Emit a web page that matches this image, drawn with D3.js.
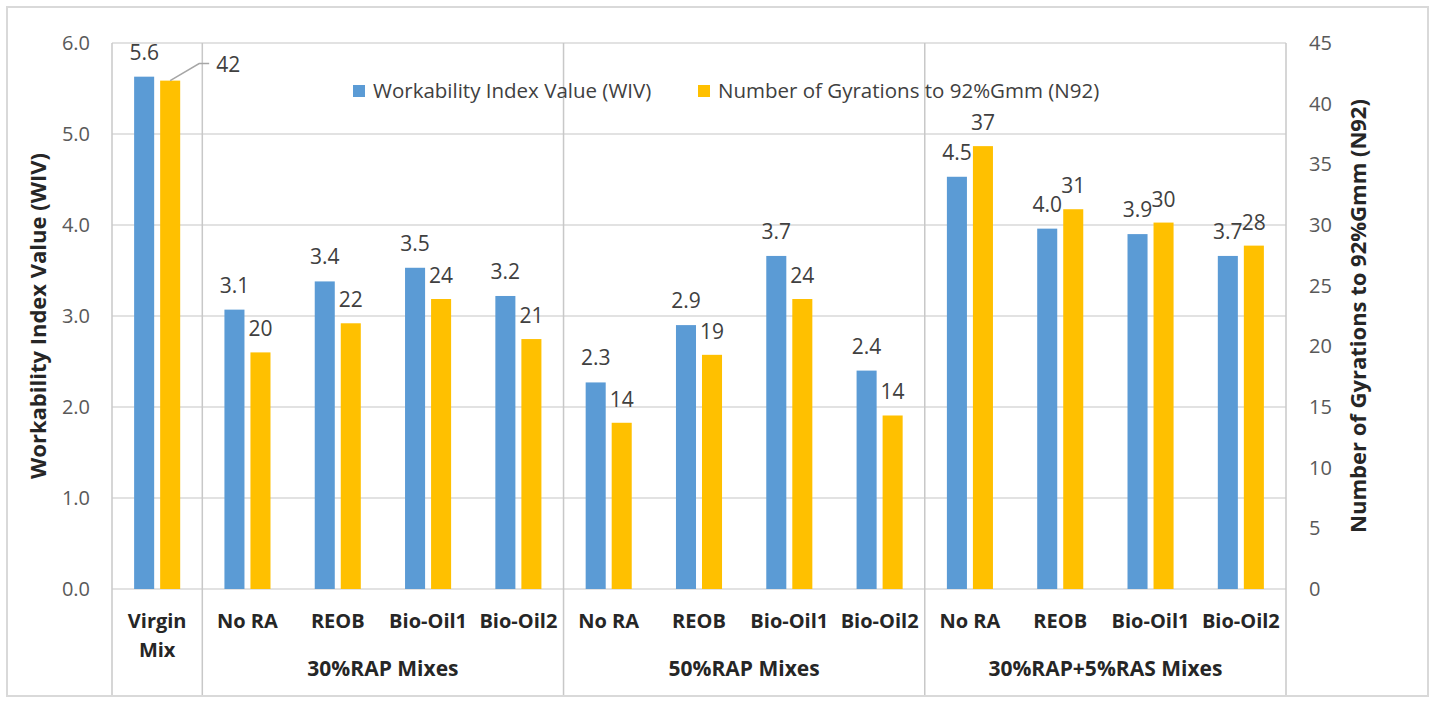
<!DOCTYPE html>
<html>
<head>
<meta charset="utf-8">
<script src="https://d3js.org/d3.v7.min.js"></script>
<style>
  body { margin: 0; background: #fff; }
  text { font-family: "Open Sans", sans-serif; }
  .tick text { fill: #595959; font-size: 20px; }
  .dlabel { fill: #404040; font-size: 21px; }
  .cat { fill: #262626; font-size: 20px; font-weight: 700; }
  .grp { fill: #262626; font-size: 21px; font-weight: 700; }
  .atitle { fill: #262626; font-size: 22px; font-weight: 700; }
  .legend text { fill: #404040; font-size: 20.5px; }
</style>
</head>
<body>
<script>
// categories along the x axis
const categories = ["Virgin\nMix", "No RA", "REOB", "Bio-Oil1", "Bio-Oil2",
                    "No RA", "REOB", "Bio-Oil1", "Bio-Oil2",
                    "No RA", "REOB", "Bio-Oil1", "Bio-Oil2"];
const groupNames = ["", "30%RAP Mixes", "50%RAP Mixes", "30%RAP+5%RAS Mixes"];
const groupSizes = [1, 4, 4, 4];

// series values
const wiv = [5.63, 3.07, 3.38, 3.53, 3.22, 2.27, 2.90, 3.66, 2.40, 4.53, 3.96, 3.90, 3.66];
const n92 = [41.9, 19.5, 21.9, 23.9, 20.6, 13.7, 19.3, 23.9, 14.3, 36.5, 31.3, 30.2, 28.3];
const seriesNames = ["Workability Index Value (WIV)", "Number of Gyrations to 92%Gmm (N92)"];
const colors = ["#5b9bd5", "#ffc000"];

// tick labels
const leftTicks = [0, 1, 2, 3, 4, 5, 6];
const rightTicks = [0, 5, 10, 15, 20, 25, 30, 35, 40, 45];

const W = 1433, H = 702;
const plot = {left: 112, right: 1286, top: 43, bottom: 589};

const svg = d3.select("body").append("svg")
  .attr("width", W).attr("height", H);

// outer frame
svg.append("rect")
  .attr("x", 7).attr("y", 7)
  .attr("width", 1421).attr("height", 689)
  .attr("fill", "none").attr("stroke", "#d9d9d9").attr("stroke-width", 2);

const idx = d3.range(categories.length);
const x0 = d3.scaleBand().domain(idx).range([plot.left, plot.right]);
const x1 = d3.scaleBand().domain([0, 1]).range([0, x0.bandwidth()])
  .paddingInner(0.23).paddingOuter(0.85);
const yL = d3.scaleLinear().domain([0, 6]).range([plot.bottom, plot.top]);
const yR = d3.scaleLinear().domain([0, 45]).range([plot.bottom, plot.top]);

// gridlines
svg.append("g").selectAll("line")
  .data(leftTicks).join("line")
  .attr("x1", plot.left).attr("x2", plot.right)
  .attr("y1", d => yL(d)).attr("y2", d => yL(d))
  .attr("stroke", "#d9d9d9").attr("stroke-width", 1.5);

// group separators
let starts = [0];
groupSizes.forEach((s, i) => starts.push(starts[i] + s));
svg.append("g").selectAll("line")
  .data(starts).join("line")
  .attr("x1", d => d < categories.length ? x0(d) : plot.right)
  .attr("x2", d => d < categories.length ? x0(d) : plot.right)
  .attr("y1", plot.top).attr("y2", 695)
  .attr("stroke", "#c8c8c8").attr("stroke-width", 1.5);

// left axis
const axL = svg.append("g")
  .attr("transform", `translate(${plot.left},0)`)
  .call(d3.axisLeft(yL).tickValues(leftTicks).tickSize(0).tickPadding(22).tickFormat(d3.format(".1f")));
axL.select(".domain").remove();

// right axis
const axR = svg.append("g")
  .attr("transform", `translate(${plot.right},0)`)
  .call(d3.axisRight(yR).tickValues(rightTicks).tickSize(0).tickPadding(23));
axR.select(".domain").remove();
axR.selectAll(".tick text").attr("text-anchor", "start");

// bars
const vals = [wiv, n92];
const scales = [yL, yR];
vals.forEach((arr, s) => {
  svg.append("g").selectAll("rect")
    .data(idx).join("rect")
    .attr("x", i => x0(i) + x1(s))
    .attr("width", x1.bandwidth())
    .attr("y", i => scales[s](arr[i]))
    .attr("height", i => plot.bottom - scales[s](arr[i]))
    .attr("fill", colors[s]);
});

// data labels
svg.append("g").selectAll("text")
  .data(idx).join("text")
  .attr("class", "dlabel")
  .attr("x", i => x0(i) + x1(0) + x1.bandwidth() / 2)
  .attr("y", i => yL(wiv[i]) - 17)
  .attr("text-anchor", "middle")
  .text(i => wiv[i].toFixed(1));

svg.append("g").selectAll("text")
  .data(idx.slice(1)).join("text")
  .attr("class", "dlabel")
  .attr("x", i => x0(i) + x1(1) + x1.bandwidth() / 2)
  .attr("y", i => yR(n92[i]) - 16)
  .attr("text-anchor", "middle")
  .text(i => Math.round(n92[i]));

// the virgin mix N92 label sits off to the right with a leader line
const vx = x0(0) + x1(1) + x1.bandwidth() / 2, vy = yR(n92[0]);
svg.append("polyline")
  .attr("points", `${vx},${vy} ${vx + 29},${vy - 17} ${vx + 39},${vy - 17}`)
  .attr("fill", "none").attr("stroke", "#a6a6a6").attr("stroke-width", 1.5);
svg.append("text")
  .attr("class", "dlabel")
  .attr("x", vx + 46).attr("y", vy - 9)
  .text(Math.round(n92[0]));

// category labels
idx.forEach(i => {
  const t = svg.append("text")
    .attr("class", "cat")
    .attr("x", x0(i) + x0.bandwidth() / 2)
    .attr("y", 628)
    .attr("text-anchor", "middle");
  categories[i].split("\n").forEach((line, k) => {
    t.append("tspan")
      .attr("x", x0(i) + x0.bandwidth() / 2)
      .attr("dy", k === 0 ? 0 : 29)
      .text(line);
  });
});

// group labels
groupNames.forEach((g, k) => {
  if (!g) return;
  const a = x0(starts[k]);
  const b = starts[k + 1] < categories.length ? x0(starts[k + 1]) : plot.right;
  svg.append("text")
    .attr("class", "grp")
    .attr("x", (a + b) / 2)
    .attr("y", 676)
    .attr("text-anchor", "middle")
    .text(g);
});

// axis titles
svg.append("text")
  .attr("class", "atitle")
  .attr("transform", `translate(46,${(plot.top + plot.bottom) / 2}) rotate(-90)`)
  .attr("text-anchor", "middle")
  .text("Workability Index Value (WIV)");

svg.append("text")
  .attr("class", "atitle")
  .attr("transform", `translate(1366,${(plot.top + plot.bottom) / 2}) rotate(-90)`)
  .attr("text-anchor", "middle")
  .text("Number of Gyrations to 92%Gmm (N92)");

// legend
const legendX = [353, 698];
const leg = svg.append("g").attr("class", "legend");
seriesNames.forEach((name, s) => {
  leg.append("rect")
    .attr("x", legendX[s]).attr("y", 85)
    .attr("width", 12).attr("height", 12)
    .attr("fill", colors[s]);
  leg.append("text")
    .attr("x", legendX[s] + 20).attr("y", 98)
    .text(name);
});
</script>
</body>
</html>
